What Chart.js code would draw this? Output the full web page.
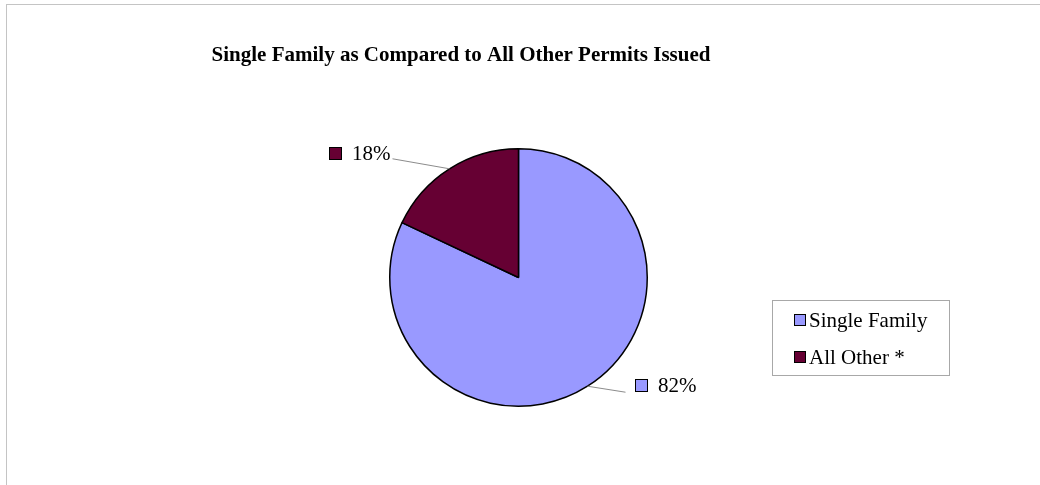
<!DOCTYPE html>
<html><head><meta charset="utf-8">
<script src="https://cdn.jsdelivr.net/npm/chart.js@4.4.1/dist/chart.umd.min.js"></script>
<style>html,body{margin:0;padding:0;background:#fff;overflow:hidden}#wrap{position:relative;width:1040px;height:485px}</style>
</head><body><div id="wrap"><canvas id="c" width="1040" height="485"></canvas></div>
<script>
const categories = ['Single Family', 'All Other *'];
const percentValues = [82, 18];
const sliceColors = ['#9999FF', '#660033'];
const titleText = 'Single Family as Compared to All Other Permits Issued';

const SERIF = '"Liberation Serif", "DejaVu Serif", serif';

// label placement relative to slice mid-edge point (style/layout, not data)
const labelLayout = [
  { lineDx: 38, lineDy: 6, sqDx: 48, cyDy: -1 },     // Single Family
  { lineDx: -57, lineDy: -10, sqDx: -121, cyDy: -16 } // All Other
];

const decor = {
  id: 'decor',
  beforeDraw(chart) {
    const ctx = chart.ctx;
    ctx.save();
    ctx.fillStyle = '#fff';
    ctx.fillRect(0, 0, chart.width, chart.height);
    ctx.strokeStyle = '#c4c4c4';
    ctx.lineWidth = 1;
    ctx.strokeRect(6.5, 4.5, 2000, 2000);
    ctx.restore();
  },
  afterDraw(chart) {
    const ctx = chart.ctx;
    ctx.save();
    // title
    ctx.fillStyle = '#000';
    ctx.font = 'bold 21px ' + SERIF;
    ctx.textAlign = 'center';
    ctx.textBaseline = 'alphabetic';
    ctx.fillText(titleText, 461, 61);

    // data labels with leader lines
    const meta = chart.getDatasetMeta(0);
    const total = percentValues.reduce((a, b) => a + b, 0);
    meta.data.forEach((arc, i) => {
      const mid = (arc.startAngle + arc.endAngle) / 2;
      const ex = arc.x + Math.cos(mid) * arc.outerRadius;
      const ey = arc.y + Math.sin(mid) * arc.outerRadius;
      const L = labelLayout[i];
      ctx.strokeStyle = '#8c8c8c';
      ctx.lineWidth = 1;
      ctx.beginPath();
      ctx.moveTo(ex, ey);
      ctx.lineTo(ex + L.lineDx, ey + L.lineDy);
      ctx.stroke();
      const sx = Math.round(ex + L.sqDx);
      const cy = Math.round(ey + L.cyDy);
      ctx.fillStyle = sliceColors[i];
      ctx.fillRect(sx, cy - 6, 12, 12);
      ctx.strokeStyle = '#000';
      ctx.strokeRect(sx + 0.5, cy - 6 + 0.5, 12, 12);
      ctx.fillStyle = '#000';
      ctx.font = '21px ' + SERIF;
      ctx.textAlign = 'left';
      ctx.textBaseline = 'middle';
      const pct = Math.round(percentValues[i] / total * 100) + '%';
      ctx.fillText(pct, sx + 23, cy + 1);
    });

    // legend
    ctx.strokeStyle = '#a8a8a8';
    ctx.lineWidth = 1;
    ctx.strokeRect(772.5, 300.5, 177, 75);
    categories.forEach((name, i) => {
      const cy = 320 + i * 37;
      ctx.fillStyle = sliceColors[i];
      ctx.fillRect(794, cy - 6, 11, 11);
      ctx.strokeStyle = '#000';
      ctx.strokeRect(794.5, cy - 5.5, 11, 11);
      ctx.fillStyle = '#000';
      ctx.font = '21px ' + SERIF;
      ctx.textAlign = 'left';
      ctx.textBaseline = 'middle';
      ctx.fillText(name, 809, cy + 1);
    });
    ctx.restore();
  }
};

new Chart(document.getElementById('c'), {
  type: 'pie',
  data: {
    labels: categories,
    datasets: [{
      data: percentValues,
      backgroundColor: sliceColors,
      borderColor: '#000',
      borderWidth: 1.5
    }]
  },
  options: {
    responsive: false,
    animation: false,
    devicePixelRatio: 1,
    layout: { padding: { left: 389, right: 392, top: 148, bottom: 78 } },
    plugins: { legend: { display: false }, title: { display: false }, tooltip: { enabled: false } }
  },
  plugins: [decor]
});
</script>
</body></html>
